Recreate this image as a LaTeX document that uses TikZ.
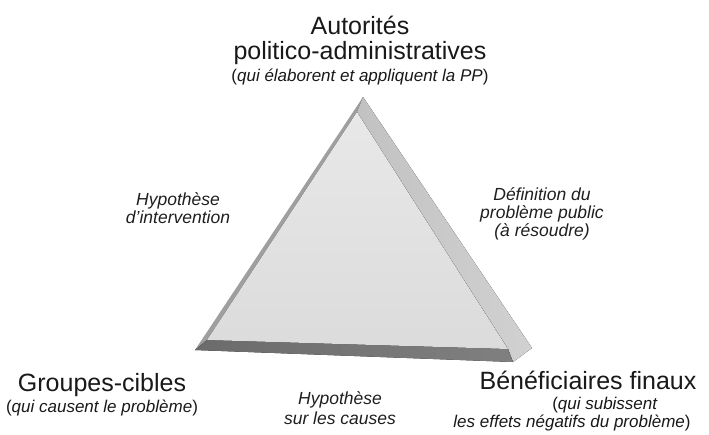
\documentclass[tikz,border=0pt]{standalone}
\usepackage{fontspec}
\setmainfont{Liberation Sans}
\begin{document}
\begin{tikzpicture}[x=1pt,y=-1pt,
  head/.style={anchor=base,inner sep=0pt,text=black!90,font=\fontsize{25}{29}\selectfont},
  sub/.style={anchor=base,inner sep=0pt,text=black!90,font=\fontsize{17}{20}\selectfont},
  lab/.style={anchor=base,inner sep=0pt,text=black!88,font=\fontsize{17.5}{20}\selectfont\itshape},
  facefront/.style={top color=gray!18,bottom color=gray!28},
  faceright/.style={left color=gray!48, right color=gray!36},
  facebottom/.style={left color=black!58, right color=black!50},
  faceleft/.style={fill=gray!75}]
\useasboundingbox (0,0) rectangle (709,434);
\fill[white] (0,0) rectangle (709,434);
% triangle corners
\coordinate (P) at (363,97);
\coordinate (A) at (357,112);
\coordinate (B) at (207,340);
\coordinate (L) at (195,350);
\coordinate (C) at (508,349);
\coordinate (R) at (532,348);
\coordinate (D) at (513,362);
% faces
\fill[faceleft] (P) -- (A) -- (B) -- (L) -- cycle;
\fill[faceright] (P) -- (R) -- (D) -- (C) -- (A) -- cycle;
\fill[facebottom] (L) -- (B) -- (C) -- (D) -- cycle;
\fill[facefront] (A) -- (B) -- (C) -- cycle;
% labels
\node[head] (aut1) at (360,34) {Autorités};
\node[head] (aut2) at (360,59) {politico-administratives};
\node[sub] (aut3) at (360,81) {(\textit{qui élaborent et appliquent la PP})};
\node[lab] (hi1) at (178,205) {Hypothèse};
\node[lab] (hi2) at (178,223) {d'intervention};
\node[lab] (dp1) at (542,200) {Définition du};
\node[lab] (dp2) at (542,218) {problème public};
\node[lab] (dp3) at (542,236) {(à résoudre)};
\node[head] (gc1) at (102,391) {Groupes-cibles};
\node[sub] (gc2) at (102,412) {(\textit{qui causent le problème})};
\node[lab] (hc1) at (340,404) {Hypothèse};
\node[lab] (hc2) at (340,424) {sur les causes};
\node[head] (bf1) at (588,389) {Bénéficiaires finaux};
\node[sub] (bf2) at (605,409) {(\textit{qui subissent}};
\node[sub] (bf3) at (572,427) {\textit{les effets négatifs du problème})};
\end{tikzpicture}
\end{document}
